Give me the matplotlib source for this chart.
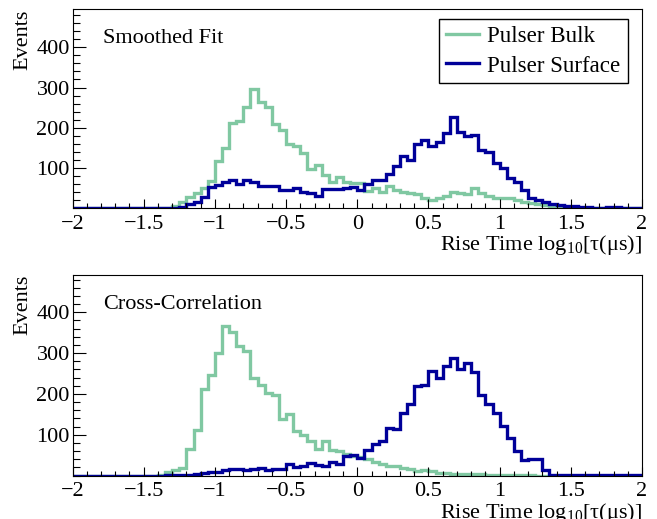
import matplotlib
matplotlib.use("Agg")
import matplotlib.pyplot as plt
import numpy as np
from matplotlib.ticker import MultipleLocator, FixedLocator

# Fonte tipo Times (estilo ROOT)
plt.rcParams['font.family'] = ['Liberation Serif', 'DejaVu Serif']
plt.rcParams['mathtext.fontset'] = 'custom'
plt.rcParams['mathtext.rm'] = 'Liberation Serif'
plt.rcParams['mathtext.it'] = 'Liberation Serif:italic'
plt.rcParams['axes.unicode_minus'] = True

# Bins de log10(tau) de -2 a 2, largura 0.05
bordas = np.linspace(-2, 2, 81)

# Smoothed Fit
fit_bulk = [0, 0, 0, 0, 0, 0, 0, 0, 0, 0, 0, 0, 0, 2, 6, 17, 28, 39, 52, 67,
            117, 150, 211, 218, 251, 297, 263, 251, 210, 194, 160, 154, 138, 97, 107, 82, 65, 77, 65, 64,
            63, 43, 50, 40, 55, 45, 40, 38, 36, 27, 22, 27, 32, 40, 38, 36, 51, 38, 32, 27,
            25, 26, 22, 16, 13, 11, 8, 5, 3, 2, 2, 2, 2, 2, 2, 2, 2, 2, 2, 2]
fit_surface = [1, 1, 1, 1, 1, 1, 1, 1, 1, 1, 1, 1, 1, 1, 2, 3, 10, 16, 28, 53,
               57, 65, 71, 61, 71, 65, 56, 55, 55, 47, 47, 52, 41, 38, 32, 49, 49, 49, 51, 53,
               46, 60, 71, 71, 86, 105, 130, 121, 160, 169, 156, 166, 186, 228, 190, 180, 181, 146, 140, 114,
               100, 75, 65, 45, 26, 20, 16, 12, 8, 7, 5, 3, 3, 2, 2, 3, 3, 2, 2, 2]

# Cross-Correlation
cc_bulk = [0, 0, 0, 0, 0, 0, 0, 0, 0, 0, 0, 0, 2, 9, 13, 19, 66, 112, 211, 246,
           301, 365, 352, 316, 306, 238, 222, 201, 198, 138, 150, 108, 100, 85, 65, 84, 62, 59, 52, 47,
           45, 41, 34, 29, 24, 24, 19, 15, 10, 14, 10, 7, 5, 4, 4, 3, 3, 3, 2, 2,
           2, 2, 1, 1, 1, 0, 0, 0, 0, 0, 0, 0, 0, 0, 0, 0, 0, 0, 0, 0]
cc_surface = [0, 0, 0, 0, 0, 0, 0, 0, 0, 0, 0, 0, 0, 1, 1, 1, 2, 4, 5, 8,
              9, 13, 17, 17, 13, 17, 19, 14, 16, 16, 27, 22, 24, 30, 26, 24, 34, 27, 47, 50,
              43, 62, 78, 84, 116, 114, 153, 175, 220, 222, 256, 240, 268, 287, 261, 275, 253, 196, 174, 154,
              122, 92, 60, 38, 41, 40, 14, 1, 1, 1, 1, 1, 1, 1, 1, 1, 1, 1, 1, 1]

cor_bulk = '#80c8a2'
cor_surface = '#000099'
fs = 16

fig = plt.figure(figsize=(6.57, 5.19), dpi=100)
ax1 = fig.add_axes([0.1104, 0.5983, 0.8668, 0.3838])
ax2 = fig.add_axes([0.1104, 0.0838, 0.8668, 0.3863])

paineis = [(ax1, fit_bulk, fit_surface, 'Smoothed Fit', 494),
           (ax2, cc_bulk, cc_surface, 'Cross-Correlation', 491)]

for ax, bulk, surface, titulo, ymax in paineis:
    ax.stairs(bulk, bordas, color=cor_bulk, lw=2.4, label='Pulser Bulk')
    ax.stairs(surface, bordas, color=cor_surface, lw=2.4, label='Pulser Surface')
    ax.set_xlim(-2, 2)
    ax.set_ylim(0, ymax)

    ax.xaxis.set_major_locator(MultipleLocator(0.5))
    ax.xaxis.set_minor_locator(MultipleLocator(0.1))
    ax.yaxis.set_major_locator(FixedLocator([100, 200, 300, 400]))
    ax.yaxis.set_minor_locator(MultipleLocator(20))
    ax.xaxis.set_major_formatter(plt.FuncFormatter(lambda v, p: ('%g' % v).replace('-', '\u2212')))
    ax.tick_params(axis='both', which='both', direction='in', top=False, right=False,
                   labelsize=fs, width=0.8)
    ax.tick_params(axis='x', which='major', length=6.5, pad=5)
    ax.tick_params(axis='x', which='minor', length=3.6)
    ax.tick_params(axis='y', which='major', length=9.4, pad=2)
    ax.tick_params(axis='y', which='minor', length=5)

    ax.set_xlabel(r'Rise Time log$_{10}$[τ(μs)]', fontsize=fs, loc='right')
    ax.xaxis.set_label_coords(1.0, -0.125)
    ax.set_ylabel('Events', fontsize=fs, loc='top')
    ax.yaxis.set_label_coords(-0.07, 1.0)

    ax.text(0.054, 0.83, titulo, transform=ax.transAxes, fontsize=fs, va='baseline')

leg = ax1.legend(loc='upper right', bbox_to_anchor=(0.9746, 0.95), borderaxespad=0,
                 fontsize=16.6, frameon=True, fancybox=False, edgecolor='black', framealpha=1,
                 handlelength=1.45, handletextpad=0.35, labelspacing=0.35, borderpad=0.3)
leg.get_frame().set_linewidth(1.0)

fig.savefig('out.png', dpi=100)
